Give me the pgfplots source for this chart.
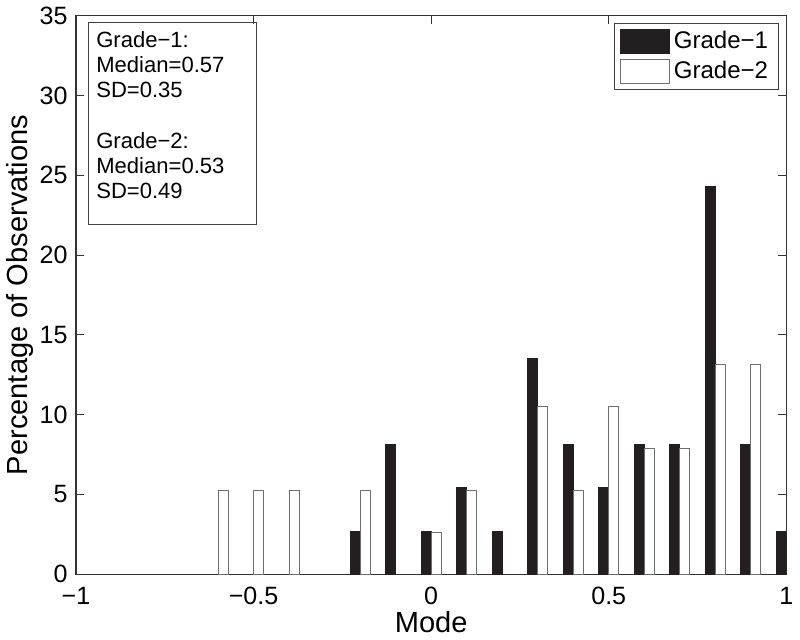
\documentclass[border=0pt]{standalone}
\usepackage{fontspec}
\setmainfont{Liberation Sans}
\usepackage{pgfplots}
\pgfplotsset{compat=1.18}

\definecolor{barblack}{HTML}{231F20}
\definecolor{edgegray}{HTML}{6D6E71}

\begin{document}
\begin{tikzpicture}
\begin{axis}[
    scale only axis,
    width=354.5pt, height=278.6pt,
    xmin=-1, xmax=1, ymin=0, ymax=35,
    xtick={-1,-0.5,0,0.5,1},
    xticklabels={−1,−0.5,0,0.5,1},
    ytick={0,5,10,15,20,25,30,35},
    tick pos=both, tick align=inside,
    major tick length=4pt,
    axis line style={black!80, line width=0.6pt},
    tick style={black!80, line width=0.5pt},
    /pgf/number format/assume math mode=true,
    ticklabel style={font=\fontsize{12.5}{14}\selectfont},
    xticklabel style={anchor=center, yshift=-10.7pt},
    yticklabel style={anchor=east, inner sep=0pt, xshift=-4pt},
    label style={font=\fontsize{14.5}{16}\selectfont},
    xlabel={Mode},
    ylabel={Percentage of Observations},
    xlabel style={at={(axis description cs:0.5,-0.0854)}, anchor=center},
    ylabel style={at={(axis description cs:-0.0784,0.5)}, anchor=center},
    legend style={at={(rel axis cs:0.989,0.987)}, anchor=north east,
        draw=black!75, font=\fontsize{12}{14}\selectfont,
        row sep=0.5pt, inner xsep=3pt, inner ysep=2pt,
        /tikz/every even column/.append style={column sep=2.5pt}},
    legend cell align=left,
    legend image code/.code={\draw[#1] (0pt,-5.9pt) rectangle (24.3pt,5.9pt);},
]
\addplot[ybar, bar width=0.028, bar shift=0pt, fill=barblack, draw=barblack]
coordinates {
(-0.214,2.70) (-0.114,8.11) (-0.014,2.70) (0.086,5.41) (0.186,2.70)
(0.286,13.51) (0.386,8.11) (0.486,5.41) (0.586,8.11) (0.686,8.11)
(0.786,24.32) (0.886,8.11) (0.986,2.70)
};
\addplot[ybar, bar width=0.028, bar shift=0pt, fill=white, draw=edgegray]
coordinates {
(-0.586,5.26) (-0.486,5.26) (-0.386,5.26) (-0.186,5.26) (0.014,2.63)
(0.114,5.26) (0.314,10.53) (0.414,5.26) (0.514,10.53) (0.614,7.89)
(0.714,7.89) (0.814,13.16) (0.914,13.16)
};
\legend{Grade−1,Grade−2}
\node[draw=black!75, anchor=north west, inner xsep=4pt, inner ysep=4.5pt,
      font=\fontsize{11}{12.6}\selectfont]
  at (rel axis cs:0.0169,0.989)
  {\parbox[c][92pt][t]{75.8pt}{\raggedright
   Grade−1:\\Median=0.57\\SD=0.35\\[12.6pt]Grade−2:\\Median=0.53\\SD=0.49}};
\end{axis}
\path ([xshift=-37.7pt,yshift=-32.7pt]current axis.south west)
  rectangle ([xshift=4.5pt,yshift=7.9pt]current axis.north east);
\end{tikzpicture}
\end{document}
